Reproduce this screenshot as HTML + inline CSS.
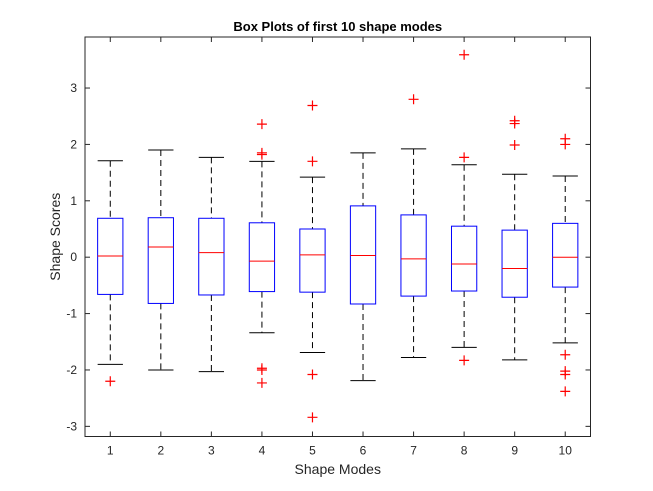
<!DOCTYPE html>
<html><head><meta charset="utf-8"><style>
body{margin:0;background:#fff;}
svg{display:block;font-family:"Liberation Sans",Arial,sans-serif;}
</style></head><body>
<svg id="chart" width="653" height="491"></svg>
<script>
const categories=["1","2","3","4","5","6","7","8","9","10"];
const whiskerHigh=[1.71,1.9,1.77,1.7,1.42,1.85,1.92,1.64,1.47,1.44];
const q3=[0.69,0.7,0.69,0.61,0.5,0.91,0.75,0.55,0.48,0.6];
const medians=[0.02,0.18,0.08,-0.07,0.04,0.03,-0.03,-0.12,-0.2,0.0];
const q1=[-0.66,-0.82,-0.67,-0.61,-0.62,-0.83,-0.69,-0.6,-0.71,-0.53];
const whiskerLow=[-1.9,-2.0,-2.03,-1.34,-1.69,-2.19,-1.78,-1.6,-1.82,-1.52];
const outliers=[[-2.2],[],[],[2.36,1.85,1.82,-1.97,-2.0,-2.23],[2.69,1.7,-2.08,-2.84],[],[2.8],[3.59,1.77,-1.83],[2.42,2.37,1.99],[2.1,2.0,-1.73,-2.02,-2.08,-2.38]];
const yTicks=[-3,-2,-1,0,1,2,3];

const NS="http://www.w3.org/2000/svg";
const svg=document.getElementById('chart');
const L=85,R=590.5,T=37,B=436.5;
const xMin=0.5,xMax=10.5,yMin=-3.18,yMax=3.905;
function xs(v){return L+(v-xMin)/(xMax-xMin)*(R-L);}
function ys(v){return B-(v-yMin)/(yMax-yMin)*(B-T);}
function mk(tag,attrs,parent){const e=document.createElementNS(NS,tag);for(const k in attrs)e.setAttribute(k,attrs[k]);(parent||svg).appendChild(e);return e;}

const axes=mk('rect',{x:L,y:T,width:R-L,height:B-T,fill:'#fff',stroke:'#262626','stroke-width':1});



const hw=0.25;
categories.forEach((c,i)=>{
  const x=i+1;
  const g=mk('g',{});
  
  
  const cx=xs(x),x0=xs(x-hw),x1=xs(x+hw);
  mk('line',{x1:cx,x2:cx,y1:ys(whiskerHigh[i]),y2:ys(q3[i]),stroke:'#000','stroke-dasharray':'6,4'},g);
  mk('line',{x1:cx,x2:cx,y1:ys(q1[i]),y2:ys(whiskerLow[i]),stroke:'#000','stroke-dasharray':'6,4'},g);
  mk('line',{x1:x0,x2:x1,y1:ys(whiskerHigh[i]),y2:ys(whiskerHigh[i]),stroke:'#000'},g);
  mk('line',{x1:x0,x2:x1,y1:ys(whiskerLow[i]),y2:ys(whiskerLow[i]),stroke:'#000'},g);
  mk('rect',{x:x0,y:ys(q3[i]),width:x1-x0,height:ys(q1[i])-ys(q3[i]),fill:'none',stroke:'#0000ff'},g);
  mk('line',{x1:x0,x2:x1,y1:ys(medians[i]),y2:ys(medians[i]),stroke:'#ff0000'},g);
  outliers[i].forEach(v=>{
    const p=mk('path',{d:`M${cx-5},${ys(v)}h10M${cx},${ys(v)-5}v10`,stroke:'#ff0000','stroke-width':1.2,fill:'none'},g);
    
    
  });
  mk('line',{x1:cx,x2:cx,y1:B,y2:B-5,stroke:'#262626'});
  mk('line',{x1:cx,x2:cx,y1:T,y2:T+5,stroke:'#262626'});
  const t=mk('text',{x:cx,y:B+18,'font-size':12,'text-anchor':'middle',fill:'#262626'});
  t.textContent=c;
  
  
});
yTicks.forEach(v=>{
  const y=ys(v);
  mk('line',{x1:L,x2:L+5,y1:y,y2:y,stroke:'#262626'});
  mk('line',{x1:R,x2:R-5,y1:y,y2:y,stroke:'#262626'});
  const t=mk('text',{x:L-8,y:y+4,'font-size':12,'text-anchor':'end',fill:'#262626'});
  t.textContent=v;
  
  
});
const title=mk('text',{x:(L+R)/2,y:31,'font-size':13,'font-weight':'bold','text-anchor':'middle',fill:'#000'});
title.textContent='Box Plots of first 10 shape modes';


const xl=mk('text',{x:(L+R)/2,y:474,'font-size':14,'text-anchor':'middle',fill:'#262626'});
xl.textContent='Shape Modes';


const yl=mk('text',{x:0,y:0,'font-size':14,'text-anchor':'middle',fill:'#262626',transform:`translate(60,${(T+B)/2}) rotate(-90)`});
yl.textContent='Shape Scores';


</script>
</body></html>
